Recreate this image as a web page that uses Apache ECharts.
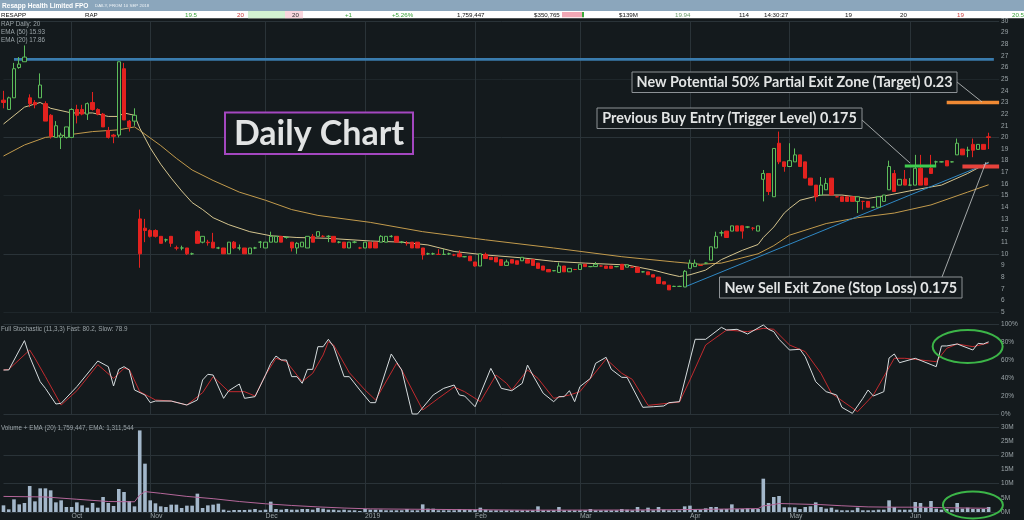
<!DOCTYPE html>
<html><head><meta charset="utf-8">
<script src="https://cdn.jsdelivr.net/npm/echarts@6/dist/echarts.min.js"></script>
<style>html,body{margin:0;padding:0;background:#141a1d;overflow:hidden}#c{width:1024px;height:520px}</style>
</head><body><div id="c"></div>
<script>
// ---------- data ----------
const monthIndex = [13, 28, 50, 69, 90, 110, 131, 150, 173];
const monthLabels = ['Oct', 'Nov', 'Dec', '2019', 'Feb', 'Mar', 'Apr', 'May', 'Jun'];
const slotCount = 191;
// [open, close, low, high] (cents)
const ohlc = [
[23.2,23.0,22.5,24.0],[22.4,23.4,22.4,23.5],[23.4,25.9,23.4,26.4],[26.0,26.3,25.9,26.9],[26.5,26.9,26.5,27.9],
[23.4,22.9,22.6,23.7],[23.0,22.8,22.5,23.2],[23.4,24.5,23.4,25.5],[22.9,21.4,21.4,23.1],[21.9,20.1,19.9,22.0],
[20.0,21.0,20.0,21.4],[20.0,20.2,19.0,20.4],[20.0,20.9,19.9,20.9],[20.0,22.4,20.0,22.5],[22.4,21.9,21.2,22.8],
[22.4,22.0,21.9,22.8],[22.0,22.9,21.5,23.0],[23.0,22.4,22.3,23.9],[22.4,22.0,21.9,22.5],[22.0,20.9,20.9,22.1],
[20.6,20.0,19.9,20.9],[20.2,20.1,19.5,20.3],[20.2,26.5,20.0,26.5],[25.9,21.5,21.5,26.4],[21.4,20.9,20.5,21.5],
[21.4,21.9,21.0,22.5],[13.0,10.0,8.8,13.8],[12.2,12.0,11.0,13.0],[12.0,11.5,11.4,12.1],[12.0,11.5,11.4,12.1],
[11.5,10.9,10.9,11.5],[11.2,11.2,11.0,11.3],[11.5,10.9,10.6,11.5],[10.5,10.5,10.3,10.7],[10.5,10.5,10.3,10.7],
[10.5,10.0,9.9,10.5],[10.0,10.0,9.9,10.1],[11.9,10.9,10.9,12.0],[11.0,11.5,10.9,11.5],[11.0,10.95,10.7,11.2],
[11.0,10.5,10.5,11.8],[10.5,10.5,10.4,10.6],[10.5,10.0,10.0,10.5],[10.0,11.0,10.0,11.0],[11.0,10.5,10.4,11.1],
[10.5,10.5,10.3,10.8],[10.5,10.0,10.0,10.5],[10.0,10.5,10.0,10.5],[10.5,10.5,10.4,10.6],[11.0,11.0,10.5,11.1],
[10.5,11.0,10.5,11.0],[11.0,11.5,11.0,11.9],[11.0,11.5,11.0,11.5],[11.5,11.0,11.0,11.5],[11.4,11.4,11.3,11.5],
[11.0,10.5,10.2,11.0],[10.5,10.9,10.0,11.0],[10.6,11.0,10.6,11.0],[10.5,11.5,10.5,11.5],[11.5,11.0,11.0,11.7],
[11.5,11.9,11.5,11.9],[11.5,11.5,11.4,11.6],[11.5,11.5,11.0,11.6],[11.5,11.0,11.0,11.5],[11.0,11.0,10.9,11.1],
[11.0,10.5,10.5,11.0],[10.5,11.0,10.5,11.0],[11.0,11.0,10.9,11.1],[10.5,10.5,10.4,10.6],[10.5,11.0,10.5,11.0],
[11.0,10.5,10.5,11.0],[11.0,10.5,10.5,11.0],[11.0,11.5,11.0,11.6],[11.0,11.5,11.0,11.5],[11.5,11.5,11.4,11.6],
[11.5,11.0,11.0,11.5],[11.0,11.0,10.9,11.1],[10.9,10.9,10.7,11.1],[11.0,10.5,10.5,11.0],[11.0,10.5,10.5,11.0],
[10.5,9.9,9.5,10.5],[10.0,10.0,9.9,10.1],[10.0,10.0,9.9,10.1],[9.95,9.95,9.9,10.4],[9.95,9.95,9.9,10.4],
[10.0,10.0,9.9,10.1],[9.9,9.9,9.8,10.0],[10.0,9.75,9.7,10.3],[9.75,9.75,9.7,9.8],[9.8,9.4,9.4,9.8],
[9.3,8.95,8.9,9.3],[8.95,10.0,8.95,10.0],[9.95,9.6,9.6,10.1],[9.7,9.5,9.5,9.7],[9.7,9.3,9.3,9.7],
[9.5,9.0,9.0,9.5],[9.0,9.3,9.0,9.5],[9.5,9.2,9.2,9.5],[9.4,9.1,9.1,9.4],[9.4,9.7,9.4,9.7],
[9.5,9.2,9.2,9.5],[9.5,9.0,9.0,9.5],[9.2,8.75,8.75,9.2],[8.95,8.6,8.6,8.95],[8.65,8.45,8.45,8.65],
[8.55,8.55,8.5,8.6],[8.4,8.95,8.4,9.25],[8.95,8.45,8.45,8.95],[8.45,8.75,8.45,8.75],[8.65,8.65,8.6,8.7],
[8.65,9.1,8.65,9.1],[9.1,8.9,8.9,9.1],[8.9,8.9,8.85,8.95],[8.9,9.1,8.9,9.3],[8.95,8.95,8.9,9.0],
[8.95,8.75,8.75,8.95],[8.95,8.75,8.75,8.95],[8.9,8.9,8.85,8.95],[9.1,8.65,8.65,9.1],[8.85,9.05,8.85,9.05],
[8.85,8.85,8.8,8.9],[8.85,8.4,8.4,8.85],[8.45,8.45,8.4,8.5],[8.45,8.2,8.2,8.45],[8.2,8.0,8.0,8.2],
[8.0,7.45,7.45,8.0],[7.6,7.4,7.4,7.6],[7.3,6.9,6.9,7.3],[7.2,7.2,7.15,7.25],[7.2,7.2,7.15,7.25],
[7.15,8.5,7.15,8.6],[8.75,9.2,8.75,9.5],[8.9,9.2,8.9,9.5],[9.0,9.0,8.95,9.05],[9.2,9.2,9.15,9.25],
[9.45,10.6,9.45,10.6],[10.5,11.5,10.5,11.9],[11.8,11.8,11.5,12.0],[11.95,11.4,11.4,11.95],[11.95,12.4,11.95,12.4],
[12.4,11.95,11.95,12.4],[12.4,11.95,11.3,12.4],[12.3,12.3,12.2,12.35],[12.2,12.2,12.0,12.3],[11.95,12.4,11.95,12.4],
[16.4,16.9,14.5,17.2],[16.9,15.35,15.05,16.9],[14.9,19.05,14.9,19.05],[19.5,17.9,17.7,20.5],[17.9,17.5,17.05,17.9],
[17.5,18.0,17.5,19.5],[17.9,18.5,17.9,19.05],[18.5,17.5,17.5,18.5],[17.9,16.5,16.5,17.9],[16.5,15.9,15.9,16.5],
[15.9,14.9,14.5,15.9],[15.05,15.9,15.05,16.6],[15.5,16.05,15.5,16.5],[16.5,15.05,15.05,16.5],[14.9,14.9,14.85,14.95],
[14.9,14.5,14.5,14.9],[14.9,14.5,14.5,14.9],[14.9,14.5,14.5,14.9],[14.5,14.9,13.5,14.9],[14.5,14.5,13.8,14.55],
[14.5,14.0,14.0,14.5],[14.0,14.0,13.95,14.05],[14.0,14.9,14.0,14.9],[14.5,15.05,14.5,15.05],[15.5,17.5,15.5,18.0],
[16.9,15.35,15.35,17.2],[15.9,16.4,15.9,16.4],[16.4,15.9,15.9,17.2],[15.9,15.9,15.85,16.5],[15.9,17.35,15.9,18.5],
[17.35,15.9,15.9,18.5],[16.5,15.9,15.9,16.5],[17.35,16.9,16.9,18.5],[17.9,17.9,17.6,18.0],[17.9,17.9,17.85,17.95],
[18.0,17.55,17.55,18.0],[17.9,17.9,17.85,17.95],[18.5,19.5,18.5,19.9],[19.0,18.5,18.5,19.0],[18.9,18.9,18.3,19.2],
[19.4,18.9,18.3,19.9],[18.97,19.4,18.97,19.4],[19.4,18.97,18.97,19.4],[20.05,20.0,19.0,20.4]
];
// volume, millions of shares
const volume = [
2.35,0.94,4.47,2.7,3.18,9.18,3.76,8.35,8.35,7.65,3.41,4.12,1.76,1.76,3.41,2.35,1.53,3.18,1.53,5.29,
3.18,2.12,8.12,7.06,3.88,2.0,28.8,17.06,4.12,3.06,2.0,1.76,2.59,2.59,1.41,2.24,2.24,6.47,1.41,2.35,
2.59,2.94,0.82,0.47,0.7,0.7,0.7,0.82,1.06,0.6,0.82,3.65,1.06,0.82,1.06,0.82,0.82,1.06,1.06,0.82,
1.41,1.18,0.82,0.82,0.6,0.82,0.6,0.6,0.35,1.06,0.82,0.82,0.82,0.6,0.6,0.6,0.6,1.06,0.6,0.6,
2.7,1.18,1.18,0.6,0.6,0.6,0.6,1.06,0.82,0.82,0.82,1.53,0.82,0.6,0.6,0.6,0.6,0.6,0.6,0.6,
0.6,0.6,2.0,0.6,0.6,0.6,1.76,0.6,0.6,0.6,0.6,0.6,1.06,0.6,0.6,0.6,0.6,0.6,1.06,0.82,
0.6,1.76,0.6,1.53,0.6,1.76,0.82,0.6,0.6,0.6,2.0,2.24,0.82,0.82,1.29,1.76,1.76,1.06,1.06,2.7,
1.06,1.06,1.29,1.06,1.06,11.76,3.18,5.29,5.65,1.65,1.65,1.65,1.06,1.76,2.0,3.41,1.76,1.18,1.53,0.82,
0.6,0.6,0.6,1.53,0.6,0.6,0.6,0.82,0.82,4.12,1.76,0.82,0.82,0.82,3.53,3.18,1.53,3.88,1.18,0.82,
1.06,0.82,3.18,1.18,1.53,1.06,1.06,1.06,1.76
];
const volumeEma = [[0,5.5],[8,5.3],[14,4.5],[20,3.7],[25,3.6],[26,6.0],[27,7.2],[30,6.6],[35,5.5],[40,4.7],[45,3.7],[50,2.9],[55,2.3],[60,1.8],[65,1.4],[70,1.1],[80,0.95],[90,0.8],[100,0.65],[120,0.7],[130,0.85],[144,1.2],[145,2.2],[146,2.3],[148,3.0],[152,2.8],[156,2.6],[160,2.2],[165,1.8],[170,1.7],[175,1.7],[180,1.5],[188,1.31]];
const ema20 = [[0,21.15],[4,22.6],[7,23.0],[9,22.5],[13,22.1],[17,22.1],[20,21.8],[22,21.8],[23,22.1],[25,21.9],[26,20.8],[28,19.1],[30,17.7],[32,16.5],[34,15.4],[36,14.4],[38,13.8],[40,13.1],[43,12.5],[47,11.9],[51,11.55],[56,11.4],[62,11.33],[70,11.1],[76,11.0],[81,10.76],[86,10.2],[92,9.9],[99,9.65],[105,9.35],[111,9.2],[119,9.04],[124,8.6],[127,8.25],[129,8.05],[131,8.2],[134,8.6],[137,9.5],[141,10.3],[144,10.8],[145,11.4],[147,12.3],[149,13.5],[150,13.9],[152,14.6],[156,15.05],[160,15.05],[165,14.76],[169,15.05],[174,15.5],[179,15.9],[184,16.9],[188,17.86]];
const ema50 = [[0,18.4],[4,19.35],[8,20.0],[12,20.2],[17,20.5],[22,20.65],[25,20.9],[26,20.6],[30,19.3],[33,18.2],[36,17.2],[40,16.3],[45,15.3],[50,14.6],[55,13.8],[60,13.3],[70,12.7],[80,11.9],[92,11.2],[105,10.5],[118,9.75],[128,9.3],[133,9.1],[137,9.2],[144,10.0],[147,10.7],[150,11.6],[157,12.6],[163,13.1],[170,13.5],[177,14.2],[184,15.3],[188,15.93]];
const stochFast = [[0,48.9],[1,48.9],[4,81.5],[5,63.7],[7,35.9],[8,28.5],[10,11.1],[11,11.9],[14,30.4],[18,58.9],[20,52.6],[21,31.1],[22,49.6],[23,52.6],[24,48.9],[25,26.7],[27,21.1],[28,12.6],[29,14.4],[32,14.4],[35,10],[37,15.6],[38,37.8],[39,44.1],[40,43.3],[42,17.4],[43,25.9],[45,33.3],[46,17.4],[48,19.3],[50,43.3],[51,56.3],[52,64.4],[53,60],[54,60],[55,41.5],[56,41.5],[57,34.1],[58,49.6],[59,49.6],[60,74.8],[61,74.8],[62,83],[63,74.8],[65,41.5],[66,41.5],[68,26.7],[70,12.6],[71,12.6],[74,66.7],[76,48.9],[78,0],[79,0],[82,21.1],[84,28.5],[86,32.2],[87,21.1],[88,20],[90,8.1],[93,50.7],[95,28.5],[97,25.9],[99,34.1],[100,54.4],[101,43.3],[103,23],[105,13.7],[106,19.3],[107,19.3],[108,25.9],[109,13.7],[110,30.4],[112,39.6],[113,56.3],[115,63],[116,49.6],[118,40.7],[119,40.7],[122,7.4],[124,8.1],[126,8.9],[127,12.6],[129,13.7],[132,83],[134,83],[137,96.3],[138,93.3],[140,94.1],[142,88.9],[145,98.9],[146,94.1],[147,91.5],[148,83],[150,71.1],[152,71.9],[153,63.7],[155,35.9],[157,24.8],[159,21.1],[160,7.4],[162,0.7],[164,17.4],[165,26.7],[166,20],[168,24.8],[169,62.2],[170,66.7],[171,57],[174,61.9],[178,52.6],[179,75.6],[180,75.6],[182,77.8],[185,71.1],[186,78.5],[187,77.8],[188,80.2]];
const stochSlow = [[0,48.9],[1,49.6],[5,71.1],[6,61.9],[8,41.5],[11,10],[14,25.9],[18,54.8],[21,39.6],[23,50.7],[24,49.6],[26,24.8],[29,15.6],[32,14.4],[35,10],[38,23.7],[40,41.5],[43,24.8],[46,24.8],[48,20],[50,43.3],[52,61.9],[54,58.1],[57,35.9],[59,45.2],[61,65.6],[62,80.4],[63,76.7],[66,45.9],[69,26.7],[71,15.6],[75,56.3],[76,48.9],[80,4.4],[83,17.4],[86,30],[88,24.8],[91,13.7],[94,43.3],[96,34.1],[97,26.7],[100,48.9],[102,39.6],[105,17.4],[108,21.1],[110,24.8],[115,61.1],[118,45.2],[120,38.5],[123,9.6],[129,13.3],[131,37.8],[134,76.7],[138,93.3],[142,91.5],[145,95.2],[147,94.1],[150,76.7],[153,69.3],[156,45.2],[158,23],[163,2.6],[166,21.1],[170,61.9],[172,61.9],[174,60.7],[178,58.1],[180,73],[182,77.8],[185,74.8],[188,78.9]];
// drawn levels
const resistanceLine = [[2,26.7],[189,26.7]];
const trendLine = [[130,7.15],[188,17.8]];
const targetLine = [[180,23],[190,23]];
const stopLine = [[183,17.5],[190,17.5]];
const entryLine = [[172,17.55],[178,17.55]];

// ---------- chart ----------
const BG = '#141a1d', GRID = '#29323700', LBL = '#9ba4a8';
const G1 = '#2a3338', G2 = '#1e262a';
const cats = Array.from({length: slotCount}, (_, i) => String(i));
const gridPos = {left: 3.5, right: 24.9};
const isMonth = (i) => monthIndex.indexOf(i) >= 0;
function xAx(gi, showLabel) {
  return {
    type: 'category', gridIndex: gi, data: cats, boundaryGap: false,
    axisLine: {show: false}, axisTick: {show: false},
    axisLabel: showLabel ? {
      show: true, interval: (i) => isMonth(i), formatter: (v, i) => monthLabels[monthIndex.indexOf(+v)] || '',
      color: LBL, fontSize: 6.8, fontFamily: 'Liberation Sans', align: 'left', margin: 1
    } : {show: false},
    splitLine: {show: true, interval: (i) => isMonth(i), lineStyle: {color: G1, width: 1}}
  };
}
const tr = 'rgba(0,0,0,0)';
const lbl = {color: LBL, fontSize: 6.5, fontFamily: 'Liberation Sans', margin: 2, align: 'left'};
const option = {
  backgroundColor: BG, animation: false,
  grid: [
    Object.assign({top: 21, height: 291}, gridPos),
    Object.assign({top: 324, height: 90}, gridPos),
    Object.assign({top: 427, height: 85}, gridPos)
  ],
  xAxis: [xAx(0, false), xAx(1, false), xAx(2, true)],
  yAxis: [
    {type: 'value', gridIndex: 0, position: 'right', min: 5, max: 30, interval: 1,
     axisLine: {show: false}, axisTick: {show: false}, axisLabel: lbl,
     splitLine: {show: true, lineStyle: {color: [G2, tr, tr, tr, tr, G1, tr, tr, tr, tr]}}},
    {type: 'value', gridIndex: 1, position: 'right', min: 0, max: 100, interval: 20,
     axisLine: {show: false}, axisTick: {show: false}, axisLabel: Object.assign({formatter: '{value}%'}, lbl),
     splitLine: {show: true, lineStyle: {color: [G1, tr, tr, tr, tr, G1]}}},
    {type: 'value', gridIndex: 2, position: 'right', min: 0, max: 30, interval: 5,
     axisLine: {show: false}, axisTick: {show: false}, axisLabel: Object.assign({formatter: '{value}M'}, lbl),
     splitLine: {show: true, lineStyle: {color: [G1, tr]}}}
  ],
  series: [
    {type: 'line', xAxisIndex: 0, yAxisIndex: 0, data: resistanceLine, showSymbol: false, silent: true, clip: false,
     lineStyle: {color: '#3a7cae', width: 2.6}, z: 2},
    {type: 'line', xAxisIndex: 0, yAxisIndex: 0, data: ema50, showSymbol: false, silent: true, clip: false,
     lineStyle: {color: '#c29a4c', width: 1}, z: 3},
    {type: 'line', xAxisIndex: 0, yAxisIndex: 0, data: ema20, showSymbol: false, silent: true, clip: false,
     lineStyle: {color: '#d4c48e', width: 1}, z: 3},
    {type: 'line', xAxisIndex: 0, yAxisIndex: 0, data: trendLine, showSymbol: false, silent: true, clip: false,
     lineStyle: {color: '#2f88c4', width: 1}, z: 4},
    {type: 'candlestick', xAxisIndex: 0, yAxisIndex: 0, data: ohlc, barWidth: 3.8, clip: false, z: 5,
     itemStyle: {color: BG, color0: '#e3221f', borderColor: '#5cbc5a', borderColor0: '#e3221f', borderWidth: 1}},
    {type: 'line', xAxisIndex: 0, yAxisIndex: 0, data: targetLine, showSymbol: false, silent: true, clip: false,
     lineStyle: {color: '#f08a34', width: 3.5}, z: 6},
    {type: 'line', xAxisIndex: 0, yAxisIndex: 0, data: stopLine, showSymbol: false, silent: true, clip: false,
     lineStyle: {color: '#e8423c', width: 4}, z: 6},
    {type: 'line', xAxisIndex: 0, yAxisIndex: 0, data: entryLine, showSymbol: false, silent: true, clip: false,
     lineStyle: {color: '#3fcc4f', width: 3}, z: 6},
    {type: 'line', xAxisIndex: 1, yAxisIndex: 1, data: stochSlow, showSymbol: false, silent: true, clip: false,
     lineStyle: {color: '#c22a2e', width: 1}, z: 3},
    {type: 'line', xAxisIndex: 1, yAxisIndex: 1, data: stochFast, showSymbol: false, silent: true, clip: false,
     lineStyle: {color: '#d6dcde', width: 1}, z: 4},
    {type: 'bar', xAxisIndex: 2, yAxisIndex: 2, data: volume, barWidth: 3.6, silent: true,
     itemStyle: {color: '#a3b7ca'}, z: 3},
    {type: 'line', xAxisIndex: 2, yAxisIndex: 2, data: volumeEma, showSymbol: false, silent: true, clip: false,
     lineStyle: {color: '#b5679a', width: 1}, z: 4}
  ]
};
const chart = echarts.init(document.getElementById('c'));
chart.setOption(option);

// ---------- header, legends, annotations ----------
const F = 'Liberation Sans';
function txt(x, y, s, fill, font, align) {
  return {type: 'text', x: x, y: y, z: 50, silent: true,
    style: {text: s, fill: fill, font: font, align: align || 'left', verticalAlign: 'middle'}};
}
function box(x, y, w, h, s, font, stroke, lw) {
  return [
    {type: 'rect', z: 60, silent: true, shape: {x: x, y: y, width: w, height: h},
     style: {fill: BG, stroke: stroke, lineWidth: lw}},
    {type: 'text', z: 61, silent: true, x: x + w / 2, y: y + h / 2 + 0.5,
     style: {text: s, fill: '#e2e4e4', font: font, align: 'center', verticalAlign: 'middle'}}
  ];
}
function ln(x1, y1, x2, y2) {
  return {type: 'line', z: 55, silent: true, shape: {x1: x1, y1: y1, x2: x2, y2: y2},
    style: {stroke: '#c8cccc', lineWidth: 0.8}};
}
const stC = chart.convertToPixel({xAxisIndex: 1, yAxisIndex: 1}, [184, 75]);
const voC = chart.convertToPixel({xAxisIndex: 2, yAxisIndex: 2}, [185, 2.5]);
const hdr = 'normal 6.2px "' + F + '"';
const g = [
  {type: 'rect', z: 40, silent: true, shape: {x: 0, y: 0, width: 1024, height: 11}, style: {fill: '#8ba6bc'}},
  {type: 'rect', z: 40, silent: true, shape: {x: 0, y: 11, width: 1024, height: 7.3}, style: {fill: '#ffffff'}},
  {type: 'rect', z: 41, silent: true, shape: {x: 248, y: 11, width: 37, height: 7.3}, style: {fill: '#d2f2d2'}},
  {type: 'rect', z: 41, silent: true, shape: {x: 285, y: 11, width: 18, height: 7.3}, style: {fill: '#f9d6de'}},
  {type: 'rect', z: 41, silent: true, shape: {x: 562, y: 12, width: 20, height: 5.3}, style: {fill: '#f2a7b5'}},
  {type: 'rect', z: 41, silent: true, shape: {x: 582, y: 12, width: 2, height: 5.3}, style: {fill: '#3bab3b'}},
  txt(2, 5.7, 'Resapp Health Limited FPO', '#ffffff', 'bold 6.6px "' + F + '"'),
  txt(95, 6, 'DAILY, FROM 10 SEP 2018', '#eef3f7', 'normal 4.4px "' + F + '"'),
  txt(1, 14.8, 'RESAPP', '#111', hdr), txt(85, 14.8, 'RAP', '#111', hdr),
  txt(185, 14.8, '19.5', '#3aa23a', hdr), txt(237, 14.8, '20', '#c83a3a', hdr),
  txt(292, 14.8, '20', '#333', hdr), txt(345, 14.8, '+1', '#3aa23a', hdr),
  txt(392, 14.8, '+5.26%', '#3aa23a', hdr), txt(457, 14.8, '1,759,447', '#111', hdr),
  txt(534, 14.8, '$350,765', '#111', hdr), txt(619, 14.8, '$139M', '#111', hdr),
  txt(675, 14.8, '19.94', '#6a9a6a', hdr), txt(739, 14.8, '114', '#111', hdr),
  txt(764, 14.8, '14:30:27', '#111', hdr), txt(845, 14.8, '19', '#111', hdr),
  txt(900, 14.8, '20', '#111', hdr), txt(957, 14.8, '19', '#c83a3a', hdr),
  txt(1012, 14.8, '20.5', '#3aa23a', hdr),
  txt(1, 24.5, 'RAP Daily: 20', LBL, 'normal 6.3px "' + F + '"'),
  txt(1, 32.3, 'EMA (50) 15.93', LBL, 'normal 6.3px "' + F + '"'),
  txt(1, 40, 'EMA (20) 17.86', LBL, 'normal 6.3px "' + F + '"'),
  txt(1, 329.5, 'Full Stochastic (11,3,3) Fast: 80.2, Slow: 78.9', LBL, 'normal 6.3px "' + F + '"'),
  txt(1, 428.5, 'Volume + EMA (20) 1,759,447, EMA: 1,311,544', LBL, 'normal 6.3px "' + F + '"'),
  ln(957, 82, 982, 102), ln(862, 120, 910, 163), ln(942, 277, 986, 162),
  {type: 'ellipse', z: 55, silent: true, shape: {cx: stC[0], cy: stC[1], rx: 35, ry: 16.5},
   style: {fill: 'none', stroke: '#3cb548', lineWidth: 2}},
  {type: 'ellipse', z: 55, silent: true, shape: {cx: voC[0], cy: voC[1], rx: 30, ry: 13.5},
   style: {fill: 'none', stroke: '#3cb548', lineWidth: 2}}
]
.concat(box(632, 72, 325, 20.5, 'New Potential 50% Partial Exit Zone (Target) 0.23', 'bold 14.4px Lato', '#8d9296', 1))
.concat(box(597, 108, 265, 20.5, 'Previous Buy Entry (Trigger Level) 0.175', 'bold 14.4px Lato', '#8d9296', 1))
.concat(box(719.5, 277, 242.5, 21, 'New Sell Exit Zone (Stop Loss) 0.175', 'bold 14.4px Lato', '#8d9296', 1))
.concat(box(225, 112.5, 188, 41.5, 'Daily Chart', 'bold 34px Lato', '#a447c0', 2));
chart.setOption({graphic: g});
</script></body></html>
